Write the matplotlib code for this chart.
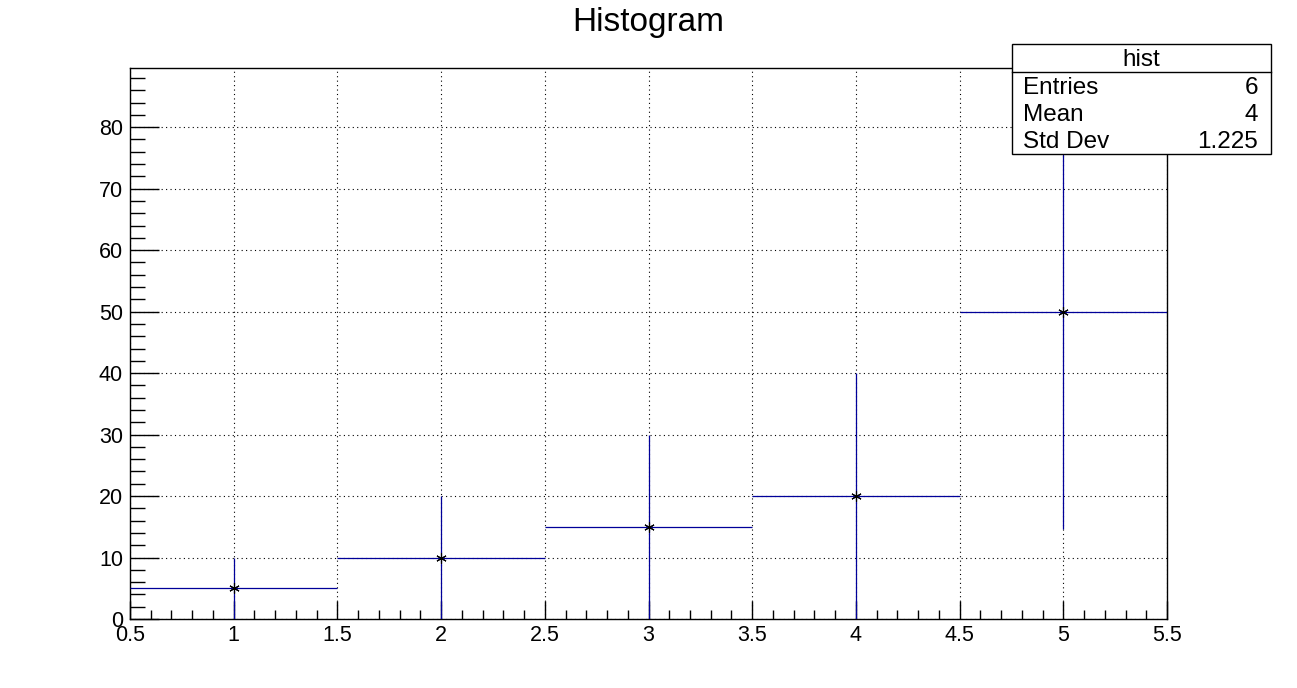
import matplotlib
matplotlib.use("Agg")
import matplotlib.pyplot as plt
from matplotlib.patches import Rectangle
from matplotlib.lines import Line2D
from matplotlib.ticker import MultipleLocator
import numpy as np

plt.rcParams['font.family'] = ['Liberation Sans', 'DejaVu Sans']

bin_centers = [1, 2, 3, 4, 5]
bin_values = [5, 10, 15, 20, 50]
bin_errors = [5, 10, 15, 20, 35.36]
bin_half_width = 0.5
stats_labels = ["Entries", "Mean", "Std Dev"]
stats_values = ["6", "4", "1.225"]
x_tick_labels = ["0.5", "1", "1.5", "2", "2.5", "3", "3.5", "4", "4.5", "5", "5.5"]

fig = plt.figure(figsize=(12.97, 6.88), dpi=100)
ax = fig.add_axes([130/1297, 1 - 619/688, (1167-130)/1297, (619-68)/688])

line_col = '#000099'
ax.errorbar(bin_centers, bin_values, xerr=bin_half_width, yerr=bin_errors,
            fmt='none', ecolor=line_col, elinewidth=0.9, capsize=0, zorder=3)
ax.plot(bin_centers, bin_values, linestyle='none', marker=(6, 2, 0),
        markersize=7.5, color='black', markeredgewidth=0.8, zorder=4)
ax.plot(bin_centers, bin_values, linestyle='none', marker='o',
        markersize=2.2, color='black', markeredgewidth=0, zorder=4)

ax.set_xlim(0.5, 5.5)
ax.set_ylim(0, 89.63)
ax.set_xticks([0.5 + 0.5 * i for i in range(len(x_tick_labels))])
ax.set_xticklabels(x_tick_labels)
ax.xaxis.set_minor_locator(MultipleLocator(0.1))
ax.yaxis.set_major_locator(MultipleLocator(10))
ax.yaxis.set_minor_locator(MultipleLocator(2))
ax.tick_params(axis='x', which='major', direction='in', length=13, width=1, labelsize=15.5, pad=4)
ax.tick_params(axis='x', which='minor', direction='in', length=6.5, width=1)
ax.tick_params(axis='y', which='major', direction='in', length=21, width=1, labelsize=15.5, pad=5)
ax.tick_params(axis='y', which='minor', direction='in', length=11, width=1)
ax.grid(True, which='major', color='black', linestyle=(0, (1, 3)), linewidth=0.8)
ax.set_axisbelow(True)
for s in ax.spines.values():
    s.set_linewidth(1)
    s.set_color('black')

fig.text(0.5, 1 - 22/688, "Histogram", ha='center', va='center', fontsize=24)

# stats box
x0, x1 = 1012/1297, 1271/1297
y0, y1 = 1 - 154/688, 1 - 44/688
ysep = 1 - 72/688
fig.add_artist(Rectangle((x0, y0), x1 - x0, y1 - y0, transform=fig.transFigure,
                         facecolor='white', edgecolor='black', linewidth=1, zorder=10))
fig.add_artist(Line2D([x0, x1], [ysep, ysep], transform=fig.transFigure,
                      color='black', linewidth=1, zorder=11))
fig.text((x0 + x1) / 2, 1 - 60/688, "hist", ha='center', va='center', fontsize=17.5, zorder=12)
row_y = [88, 115, 142]
for lab, val, ry in zip(stats_labels, stats_values, row_y):
    fig.text(1023/1297, 1 - ry/688, lab, ha='left', va='center', fontsize=17.5, zorder=12)
    fig.text(1258/1297, 1 - ry/688, val, ha='right', va='center', fontsize=17.5, zorder=12)

fig.savefig("out.png", dpi=100)
